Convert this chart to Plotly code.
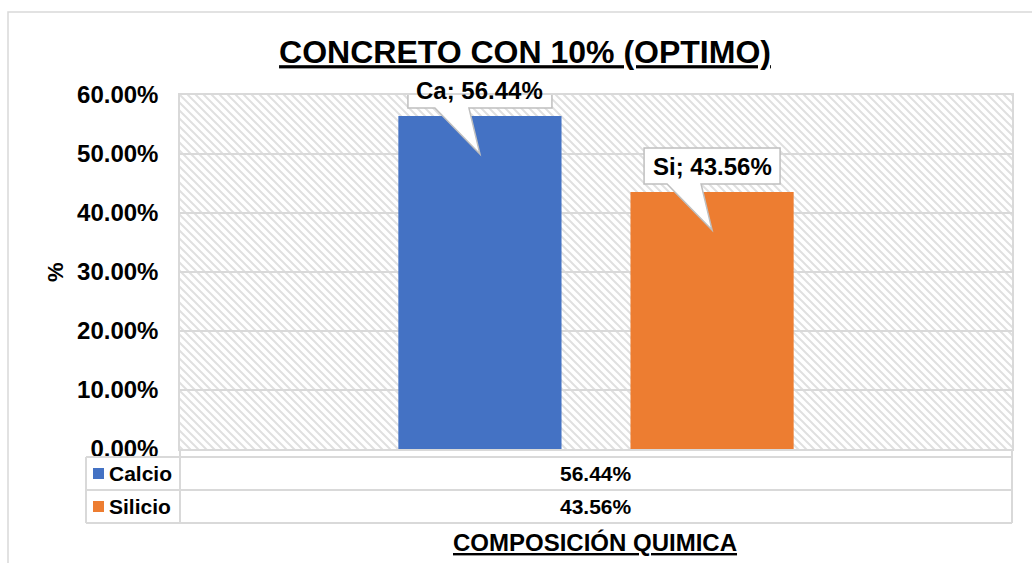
import base64
import plotly.graph_objects as go

# ---------------- data ----------------
categories = ["Calcio", "Silicio"]
symbols = ["Ca", "Si"]
values = [56.44, 43.56]
group_label = ["Composición"]
y_ticks = [0, 10, 20, 30, 40, 50, 60]
y_tick_text = ["0.00%", "10.00%", "20.00%", "30.00%", "40.00%", "50.00%", "60.00%"]
title_text = "CONCRETO CON 10% (OPTIMO)"
x_title = "COMPOSICIÓN QUIMICA"
y_title = "%"

# ---------------- style ----------------
colors = ["#4472C4", "#ED7D31"]
FONT = "Arial, Liberation Sans, sans-serif"
GRID = "#d9d9d9"
W, H = 1032, 563
L, R, T, B = 180, 20, 95, 114
PW, PH = W - L - R, H - T - B
BARGAP, GROUPGAP = 0.442, 0.297


def px_x(px):
    return (px - L) / PW


def px_y(py):
    return (H - B - py) / PH


fig = go.Figure()
for name, v, c in zip(categories, values, colors):
    fig.add_trace(go.Bar(x=group_label, y=[v], name=name, marker=dict(color=c, line=dict(width=0)),
                         showlegend=False, hoverinfo="skip"))

# hatched plot-area background (svg pattern image)
svg = (f"<svg xmlns='http://www.w3.org/2000/svg' width='{PW}' height='{PH}' viewBox='0 0 {PW} {PH}' "
       f"preserveAspectRatio='none'><defs><pattern id='h' width='8' height='8' patternUnits='userSpaceOnUse'>"
       f"<path d='M0,0 L8,8 M-2,6 L2,10 M6,-2 L10,2' stroke='#e0e0e0' stroke-width='2'/></pattern></defs>"
       f"<rect width='100%' height='100%' fill='#ffffff'/><rect width='100%' height='100%' fill='url(#h)'/></svg>")
src = "data:image/svg+xml;base64," + base64.b64encode(svg.encode()).decode()

shapes = []
annotations = []

# callouts
half_w = [72, 68]
n = len(values)
for i, (sym, v) in enumerate(zip(symbols, values)):
    xc = 0.5 + (i - (n - 1) / 2) * (1 - BARGAP) / n
    hw = half_w[i]
    path = (f"M{-hw},8 L-45,8 L0,-38 L-11,8 L{hw},8 L{hw},44 L{-hw},44 Z")
    shapes.append(dict(type="path", xref="paper", yref="y", xsizemode="pixel", ysizemode="pixel",
                       xanchor=xc, yanchor=v, path=path, fillcolor="white",
                       line=dict(color="#bfbfbf", width=1.5), layer="above"))
    annotations.append(dict(xref="paper", yref="y", x=xc, y=v, yshift=26, showarrow=False,
                            xanchor="center", yanchor="middle",
                            text=f"<b>{sym}; {v:.2f}%</b>", font=dict(family=FONT, size=24, color="black")))

# data table lines
def hline(py, x0, x1):
    shapes.append(dict(type="line", xref="paper", yref="paper", x0=px_x(x0), x1=px_x(x1),
                       y0=px_y(py), y1=px_y(py), line=dict(color=GRID, width=2)))


def vline(px, y0, y1):
    shapes.append(dict(type="line", xref="paper", yref="paper", x0=px_x(px), x1=px_x(px),
                       y0=px_y(y0), y1=px_y(y1), line=dict(color=GRID, width=2)))


hline(457, 86, 1012)
hline(490, 86, 1012)
hline(523, 86, 1012)
vline(86, 457, 523)
vline(180, 449, 523)
vline(1012, 449, 523)

row_centers = [473.5, 506.5]
for name, v, c, rc in zip(categories, values, colors, row_centers):
    shapes.append(dict(type="rect", xref="paper", yref="paper", x0=px_x(93), x1=px_x(104),
                       y0=px_y(rc + 5.5), y1=px_y(rc - 5.5), fillcolor=c, line=dict(width=0)))
    annotations.append(dict(xref="paper", yref="paper", x=px_x(107), y=px_y(rc), xanchor="left",
                            yanchor="middle", showarrow=False, text=f"<b>{name}</b>",
                            font=dict(family=FONT, size=21, color="black")))
    annotations.append(dict(xref="x", yref="paper", x=group_label[0], y=px_y(rc), showarrow=False,
                            xanchor="center", yanchor="middle",
                            text=f"<b>{v:.2f}%</b>", font=dict(family=FONT, size=21, color="black")))

# outer chart border
shapes.append(dict(type="rect", xref="paper", yref="paper", x0=px_x(8), x1=px_x(1050),
                   y0=px_y(580), y1=px_y(12), line=dict(color=GRID, width=1.5), layer="below"))

# axis titles
annotations.append(dict(xref="paper", yref="paper", x=px_x(595), y=px_y(542), showarrow=False,
                        xanchor="center", yanchor="middle",
                        text=f"<b><u>{x_title}</u></b>", font=dict(family=FONT, size=24, color="black")))
annotations.append(dict(xref="paper", yref="paper", x=px_x(55), y=px_y(272), showarrow=False, textangle=-90,
                        xanchor="center", yanchor="middle",
                        text=f"<b>{y_title}</b>", font=dict(family=FONT, size=22, color="black")))

fig.update_layout(
    width=W, height=H,
    margin=dict(l=L, r=R, t=T, b=B, pad=0),
    paper_bgcolor="white", plot_bgcolor="rgba(0,0,0,0)",
    barmode="group", bargap=BARGAP, bargroupgap=GROUPGAP,
    title=dict(text=f"<b><u>{title_text}</u></b>", x=525 / W, y=1 - 52 / H, xanchor="center",
               yanchor="middle", font=dict(family=FONT, size=32, color="black")),
    images=[dict(source=src, xref="paper", yref="paper", x=0, y=1, sizex=1, sizey=1,
                 sizing="stretch", xanchor="left", yanchor="top", layer="below")],
    shapes=shapes, annotations=annotations,
    xaxis=dict(showticklabels=False, showgrid=False, showline=True, mirror=True,
               linecolor=GRID, linewidth=1.5, zeroline=False, fixedrange=True),
    yaxis=dict(range=[0, 60], tickmode="array", tickvals=y_ticks, ticktext=y_tick_text,
               showgrid=True, gridcolor=GRID, gridwidth=1.5, showline=True, mirror=True,
               linecolor=GRID, linewidth=1.5, zeroline=False, ticks="", ticklabelstandoff=15,
               automargin=False,
               tickfont=dict(family=FONT, size=24, color="black", weight="bold"), fixedrange=True),
)

fig.write_html("out.html", config={"displayModeBar": False},
               post_script="document.body.style.margin='0';document.body.style.padding='0';")
